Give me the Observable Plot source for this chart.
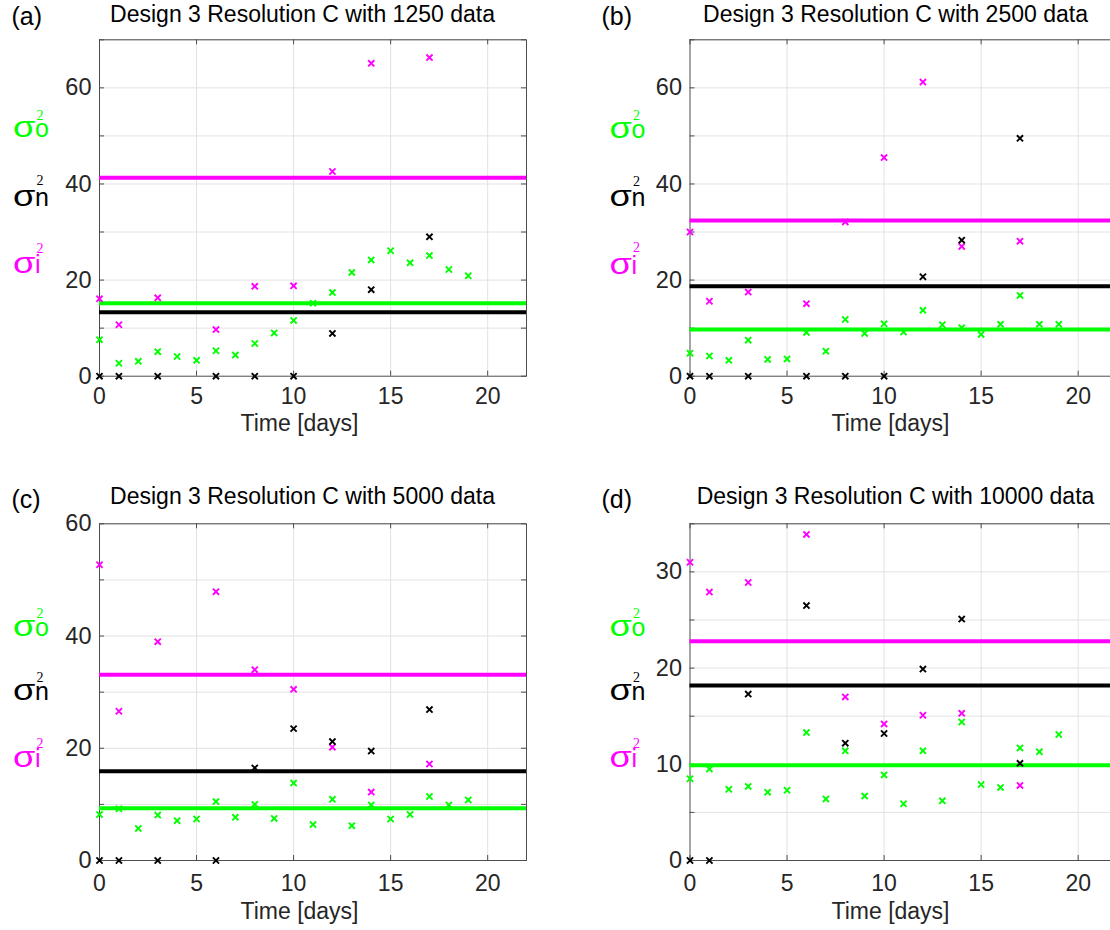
<!DOCTYPE html>
<html><head><meta charset="utf-8">
<script src="https://cdn.jsdelivr.net/npm/d3@7"></script>
<script src="https://cdn.jsdelivr.net/npm/@observablehq/plot@0.6"></script>
<style>
html,body{margin:0;padding:0;background:#fff;overflow:hidden;}
#fig{position:relative;width:1110px;height:930px;overflow:hidden;background:#fff;}
#fig svg{position:absolute;max-width:none;}
</style></head><body><div id="fig"></div>
<script>
// ---------- data ----------
const greenDays = [0,1,2,3,4,5,6,7,8,9,10,11,12,13,14,15,16,17,18,19];
const sparseDays = [0,1,3,6,8,10,12,14,17];
const xTicks = [0,5,10,15,20];

const titles = ["Design 3 Resolution C with 1250 data","Design 3 Resolution C with 2500 data","Design 3 Resolution C with 5000 data","Design 3 Resolution C with 10000 data"];
const letters = ["(a)","(b)","(c)","(d)"];
const xLabel = "Time [days]";
const sigmaSymbol = "σ";
const sigmaSubs = ["o","n","i"];
const sigmaSup = "2";

// sigma_o^2 (green), one value per day 0..19
const sigmaO_a = [7.6,2.7,3.1,5.1,4.1,3.3,5.3,4.4,6.8,9.0,11.6,15.2,17.4,21.6,24.2,26.1,23.6,25.1,22.2,20.9];
const sigmaO_b = [4.8,4.2,3.3,7.5,3.5,3.6,9.1,5.2,11.8,8.9,10.9,9.2,13.7,10.7,10.1,8.7,10.8,16.8,10.8,10.8];
const sigmaO_c = [8.2,9.2,5.7,8.1,7.1,7.4,10.5,7.7,10.0,7.5,13.8,6.4,10.9,6.2,9.9,7.4,8.2,11.4,9.9,10.8];
const sigmaO_d = [8.5,9.5,7.4,7.7,7.1,7.3,13.3,6.4,11.4,6.7,8.9,5.9,11.4,6.2,14.4,7.9,7.6,11.7,11.3,13.1];
// sigma_i^2 (magenta), at sparse days
const sigmaI_a = [16.1,10.7,16.3,9.7,18.7,18.8,42.6,65.1,66.3];
const sigmaI_b = [30.0,15.6,17.5,15.1,32.1,45.5,61.2,27.0,28.1];
const sigmaI_c = [52.7,26.6,39.0,47.9,34.0,30.5,20.2,12.2,17.2];
const sigmaI_d = [31.0,27.9,28.9,33.9,17.0,14.2,15.1,15.3,7.8];
// sigma_n^2 (black), at sparse days
const sigmaN_a = [0,0,0,0,0,0,8.9,18.0,29.0];
const sigmaN_b = [0,0,0,0,0,0,20.7,28.3,49.5];
const sigmaN_c = [0,0,0,0,16.5,23.5,21.2,19.5,26.9];
const sigmaN_d = [0,0,17.3,26.5,12.2,13.2,19.9,25.1,10.1];
// horizontal (mean) lines
const meanO = [15.2,9.7,9.3,9.9];
const meanN = [13.3,18.7,15.9,18.2];
const meanI = [41.3,32.4,33.1,22.8];
// y axes
const yMax = [70,70,60,35];
const yTickLabels = [[0,20,40,60],[0,20,40,60],[0,20,40,60],[0,10,20,30]];
const yGridTicks = [[10,20,30,40,50,60,70],[10,20,30,40,50,60,70],[10,20,30,40,50,60],[5,10,15,20,25,30,35]];

const seriesO = [sigmaO_a,sigmaO_b,sigmaO_c,sigmaO_d];
const seriesI = [sigmaI_a,sigmaI_b,sigmaI_c,sigmaI_d];
const seriesN = [sigmaN_a,sigmaN_b,sigmaN_c,sigmaN_d];

// ---------- layout (page px) ----------
const layout = [
  {left:0,top:0,width:555,height:465,fl:99,fr:526,ft:39.3,fb:375.7,tx:302,ty:21,lx:299,ly:430.5,px:11,py:24.5,sx:13,sb:[137,206,273],ss:[120,185,253],pad:11.7},
  {left:555,top:0,width:575,height:465,fl:689.5,fr:1116.5,ft:39.3,fb:375.7,tx:895,ty:21,lx:890,ly:430.5,px:601,py:24.5,sx:609.5,sb:[137.5,206,274],ss:[119.5,186,252],pad:11.7},
  {left:0,top:465,width:555,height:465,fl:99,fr:526,ft:523.3,fb:860,tx:302,ty:503.5,lx:299,ly:918,px:11,py:507.5,sx:13,sb:[636,700,767],ss:[618,682,748],pad:14.2},
  {left:555,top:465,width:575,height:465,fl:689.5,fr:1116.5,ft:523.3,fb:860,tx:895,ty:503.5,lx:890,ly:918,px:601,py:507.5,sx:609.5,sb:[636,700,767],ss:[618,682,748],pad:14.2}
];

const GREEN = "#00ff00", MAGENTA = "#ff00ff", BLACK = "#000000";
const sigmaColors = [GREEN, BLACK, MAGENTA];
const AXIS = "#4d4d4d", GRID = "#e2e2e2";
const FONT = "Liberation Sans, Arial, Helvetica, sans-serif";
const SERIF = "Liberation Serif, Times New Roman, serif";

const fig = document.getElementById("fig");

function panel(i) {
  const L = layout[i];
  const ml = L.fl - L.left, mr = L.left + L.width - L.fr;
  const mt = L.ft - L.top, mb = L.top + L.height - L.fb;
  const fw = L.fr - L.fl, fh = L.fb - L.ft;
  const ann = (txt, px, py, opts) => Plot.text([txt], {text: d => d, frameAnchor: "top-left", dx: px - L.fl, dy: py - L.ft, lineAnchor: "bottom", fontFamily: FONT, ...opts});

  const greenData = greenDays.map((d, k) => ({day: d, v: seriesO[i][k]}));
  const magData = sparseDays.map((d, k) => ({day: d, v: seriesI[i][k]}));
  const blackData = sparseDays.map((d, k) => ({day: d, v: seriesN[i][k]}));

  const svg = Plot.plot({
    width: L.width, height: L.height,
    marginLeft: ml, marginRight: mr, marginTop: mt, marginBottom: mb,
    x: {domain: [0, 22]},
    y: {domain: [0, yMax[i]]},
    style: {fontFamily: FONT, background: "transparent", color: "#262626"},
    marks: [
      Plot.ruleX(xTicks.filter(t => t > 0), {x: d => d, stroke: GRID, strokeWidth: 1}),
      Plot.ruleY(yGridTicks[i], {y: d => d, stroke: GRID, strokeWidth: 1}),
      Plot.frame({stroke: AXIS, strokeWidth: 1}),
      Plot.tickX(xTicks, {x: d => d, insetTop: fh - 5, stroke: AXIS}),
      Plot.tickX(xTicks, {x: d => d, insetBottom: fh - 5, stroke: AXIS}),
      Plot.tickY(yGridTicks[i].concat([0]), {y: d => d, insetRight: fw - 5, stroke: AXIS}),
      Plot.tickY(yGridTicks[i].concat([0]), {y: d => d, insetLeft: fw - 5, stroke: AXIS}),
      Plot.axisX(xTicks, {tickSize: 0, tickPadding: L.pad, fontSize: 23, label: null, fill: "#262626"}),
      Plot.axisY(yTickLabels[i], {tickSize: 0, tickPadding: 8, fontSize: 23.5, label: null, fill: "#262626"}),
      Plot.ruleY([meanI[i]], {y: d => d, stroke: MAGENTA, strokeWidth: 4}),
      Plot.ruleY([meanN[i]], {y: d => d, stroke: BLACK, strokeWidth: 4}),
      Plot.ruleY([meanO[i]], {y: d => d, stroke: GREEN, strokeWidth: 4}),
      Plot.dot(greenData, {x: "day", y: "v", symbol: "times", r: 2.9, stroke: GREEN, strokeWidth: 1.9}),
      Plot.dot(magData, {x: "day", y: "v", symbol: "times", r: 2.9, stroke: MAGENTA, strokeWidth: 1.9}),
      Plot.dot(blackData, {x: "day", y: "v", symbol: "times", r: 2.9, stroke: BLACK, strokeWidth: 1.9}),
      ann(titles[i], L.tx, L.ty, {fontSize: 23, textAnchor: "middle", fill: "#000"}),
      ann(letters[i], L.px, L.py, {fontSize: 25, textAnchor: "start", fill: "#000"}),
      ann(xLabel, L.lx, L.ly, {fontSize: 23, textAnchor: "middle", fill: "#262626"})
    ]
  });
  svg.style.left = L.left + "px";
  svg.style.top = L.top + "px";
  svg.style.overflow = "visible";

  // sigma labels: wide σ, subscript, and a superscript 2 stacked above the subscript
  const g = d3.select(svg).append("g").attr("font-family", FONT).attr("text-anchor", "start");
  sigmaSubs.forEach((sub, k) => {
    const x = L.sx - L.left, y = L.sb[k] - L.top;
    g.append("text")
      .attr("transform", `translate(${x},${y}) scale(1.25,1)`)
      .attr("font-size", 29)
      .attr("fill", sigmaColors[k])
      .text(sigmaSymbol);
    const t = g.append("text").attr("x", x + 22).attr("y", y).attr("fill", sigmaColors[k]);
    t.append("tspan").attr("font-size", 25).text(sub);
    t.append("tspan").attr("x", x + 23.5).attr("y", L.ss[k] - L.top).attr("font-size", 14).attr("font-family", SERIF).text(sigmaSup);
  });
  fig.appendChild(svg);
}
[0,1,2,3].forEach(panel);
</script>
</body></html>
